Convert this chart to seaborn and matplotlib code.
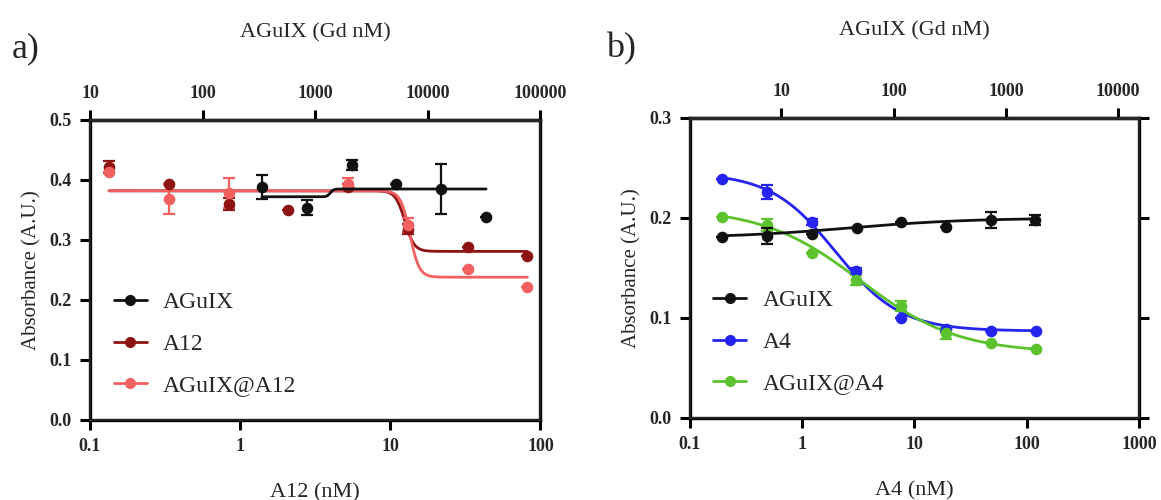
import numpy as np
import pandas as pd
import matplotlib
matplotlib.use("Agg")
import matplotlib.pyplot as plt
import seaborn as sns
from matplotlib.lines import Line2D
from matplotlib.ticker import NullLocator

# panel a: AGuIX (top axis, Gd nM), A12 and AGuIX@A12 (bottom axis, nM)
agx_a_gd = [337, 843, 2107, 5267, 13168, 32920]
agx_a_abs = [0.388, 0.354, 0.425, 0.394, 0.385, 0.338]
agx_a_err = [0.020, 0.012, 0.008, 0.0, 0.042, 0.0]

a12_nm = [0.134, 0.335, 0.838, 2.09, 5.24, 13.1, 32.7, 81.8]
a12_abs = [0.421, 0.393, 0.360, 0.350, 0.388, 0.318, 0.288, 0.274]
a12_err = [0.010, 0.0, 0.010, 0.0, 0.005, 0.008, 0.0, 0.0]

agxa12_nm = [0.134, 0.335, 0.838, 5.24, 13.1, 32.7, 81.8]
agxa12_abs = [0.414, 0.368, 0.378, 0.394, 0.325, 0.252, 0.222]
agxa12_err = [0.0, 0.025, 0.025, 0.010, 0.012, 0.0, 0.0]

# panel b: AGuIX (top axis), A4 and AGuIX@A4 (bottom axis)
agx_b_gd = [3.0, 7.5, 18.8, 47, 117, 293, 733, 1830]
agx_b_abs = [0.181, 0.182, 0.184, 0.190, 0.196, 0.191, 0.198, 0.198]
agx_b_err = [0.0, 0.008, 0.0, 0.0, 0.0, 0.0, 0.008, 0.005]

a4_nm = [0.195, 0.49, 1.22, 3.05, 7.6, 19, 48, 120]
a4_abs = [0.239, 0.226, 0.196, 0.147, 0.100, 0.089, 0.087, 0.087]
a4_err = [0.0, 0.007, 0.003, 0.003, 0.0, 0.003, 0.0, 0.0]

agxa4_abs = [0.201, 0.193, 0.165, 0.138, 0.112, 0.085, 0.075, 0.069]
agxa4_err = [0.0, 0.006, 0.0, 0.005, 0.005, 0.006, 0.0, 0.0]

# fitted 4PL parameters: (start, end, ec50, hill)
fit_agx_a = (0.372, 0.385, 1360, 30)
fit_a12 = (0.382, 0.281, 12.5, 14)
fit_agxa12 = (0.382, 0.238, 13.5, 14)
fit_agx_b = (0.180, 0.200, 40, 0.8)
fit_a4 = (0.245, 0.087, 2.0, 1.5)
fit_agxa4 = (0.210, 0.065, 3.3, 1.0)

c_black = "#111111"
c_a12 = "#8e1414"
c_agxa12 = "#f26060"
c_a4 = "#2424ee"
c_agxa4 = "#5cc22e"


def fourpl(x, p):
    a, b, ec, h = p
    return a + (b - a) / (1 + (ec / x) ** h)


def curve(ax, xs, p, color):
    xx = np.logspace(np.log10(min(xs)), np.log10(max(xs)), 400)
    d = pd.DataFrame({"x": xx, "y": fourpl(xx, p)})
    sns.lineplot(data=d, x="x", y="y", ax=ax, color=color, lw=2, legend=False)


def points(ax, xs, ys, err, color):
    ax.errorbar(xs, ys, yerr=err, fmt="none", ecolor=color, elinewidth=1.6,
                capsize=4, capthick=1.6, zorder=3)
    sns.scatterplot(x=xs, y=ys, ax=ax, color=color, s=70, edgecolor=color,
                    linewidth=0, zorder=4, legend=False)


sns.set_theme(style="ticks")
plt.rcParams["font.family"] = ["Liberation Serif", "DejaVu Serif"]

fig = plt.figure(figsize=(11.61, 5), dpi=100)
ax_a = fig.add_axes([0.0775, 0.16, 0.388, 0.60])
ax_b = fig.add_axes([0.594, 0.164, 0.387, 0.60])

tickfont = dict(fontsize=13, fontweight="bold")


def style_axes(ax, top):
    for s in ax.spines.values():
        s.set_linewidth(2.4)
        s.set_color("black")
    for a in (ax, top):
        a.tick_params(width=2.2, length=7, color="black", pad=6)
        a.xaxis.set_minor_locator(NullLocator())
    top.spines["top"].set_linewidth(2.4)


# ---- panel a ----
ax_a.set_xscale("log")
ax_a.set_xlim(0.1, 100)
ax_a.set_ylim(0, 0.5)
top_a = ax_a.twiny()
top_a.set_xscale("log")
top_a.set_xlim(10, 100000)

curve(top_a, agx_a_gd, fit_agx_a, c_black)
curve(ax_a, a12_nm, fit_a12, c_a12)
curve(ax_a, agxa12_nm, fit_agxa12, c_agxa12)
points(top_a, agx_a_gd, agx_a_abs, agx_a_err, c_black)
points(ax_a, a12_nm, a12_abs, a12_err, c_a12)
points(ax_a, agxa12_nm, agxa12_abs, agxa12_err, c_agxa12)

ax_a.set_xticks([0.1, 1, 10, 100], ["0.1", "1", "10", "100"], **tickfont)
ax_a.set_yticks([0, 0.1, 0.2, 0.3, 0.4, 0.5],
                ["0.0", "0.1", "0.2", "0.3", "0.4", "0.5"], **tickfont)
top_a.set_xticks([10, 100, 1000, 10000, 100000],
                 ["10", "100", "1000", "10000", "100000"], **tickfont)
style_axes(ax_a, top_a)
ax_a.set_xlabel("A12 (nM)", fontsize=16, labelpad=20)
ax_a.set_ylabel("Absorbance (A.U.)", fontsize=15, labelpad=6)
top_a.set_xlabel("AGuIX (Gd nM)", fontsize=16, labelpad=34)

# ---- panel b ----
ax_b.set_xscale("log")
ax_b.set_xlim(0.1, 1000)
ax_b.set_ylim(0, 0.3)
top_b = ax_b.twiny()
top_b.set_xscale("log")
top_b.set_xlim(1.53, 15300)

curve(top_b, agx_b_gd, fit_agx_b, c_black)
curve(ax_b, a4_nm, fit_a4, c_a4)
curve(ax_b, a4_nm, fit_agxa4, c_agxa4)
points(top_b, agx_b_gd, agx_b_abs, agx_b_err, c_black)
points(ax_b, a4_nm, a4_abs, a4_err, c_a4)
points(ax_b, a4_nm, agxa4_abs, agxa4_err, c_agxa4)

ax_b.set_xticks([0.1, 1, 10, 100, 1000], ["0.1", "1", "10", "100", "1000"], **tickfont)
ax_b.set_yticks([0, 0.1, 0.2, 0.3], ["0.0", "0.1", "0.2", "0.3"], **tickfont)
top_b.set_xticks([10, 100, 1000, 10000], ["10", "100", "1000", "10000"], **tickfont)
style_axes(ax_b, top_b)
ax_b.tick_params(axis="y", right=True)
ax_b.set_xlabel("A4 (nM)", fontsize=16, labelpad=20)
ax_b.set_ylabel("Absorbance (A.U.)", fontsize=15, labelpad=6)
top_b.set_xlabel("AGuIX (Gd nM)", fontsize=16, labelpad=34)


def legend(ax, labels, colors):
    hs = [Line2D([], [], color=c, lw=2, marker="o", markersize=7) for c in colors]
    ax.legend(hs, labels, loc="lower left", bbox_to_anchor=(0.0, 0.0),
              frameon=False, fontsize=17, handlelength=1.4, handletextpad=0.7,
              labelspacing=0.85, borderaxespad=0.6)


legend(top_a, ["AGuIX", "A12", "AGuIX@A12"], [c_black, c_a12, c_agxa12])
legend(top_b, ["AGuIX", "A4", "AGuIX@A4"], [c_black, c_a4, c_agxa4])

fig.text(0.010, 0.885, "a)", fontsize=26)
fig.text(0.522, 0.885, "b)", fontsize=26)

fig.savefig("out.png", dpi=100)
